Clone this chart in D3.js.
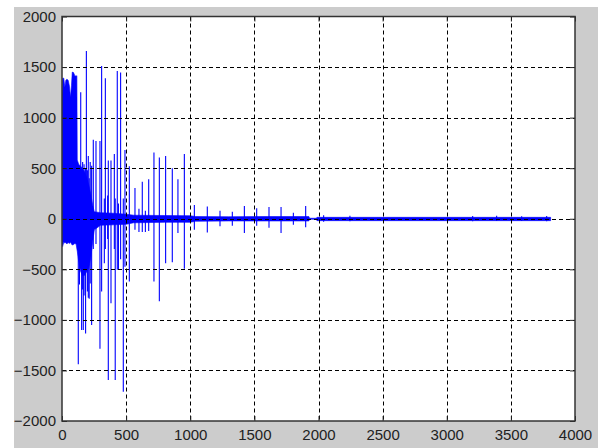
<!DOCTYPE html>
<html>
<head>
<meta charset="utf-8">
<script src="https://cdn.jsdelivr.net/npm/d3@7/dist/d3.min.js"></script>
<style>
  html, body { margin: 0; padding: 0; background: #ffffff; }
  svg { display: block; }
  .tick text { font-family: "Liberation Sans", Arial, sans-serif; font-size: 15px; fill: #222; }
</style>
</head>
<body>
<svg id="chart" width="598" height="448"></svg>
<script>
// Axis tick values
const xTicks = [0, 500, 1000, 1500, 2000, 2500, 3000, 3500, 4000];
const yTicks = [-2000, -1500, -1000, -500, 0, 500, 1000, 1500, 2000];

// Min/max envelope of the signal (sample index, upper, lower)
const bandT  = [0, 5, 14, 22, 30, 38, 48, 58, 66, 74, 80, 90, 100, 110, 116,
                119, 130, 145, 160, 175, 195, 210, 225, 240, 252, 300, 400, 500,
                560, 800, 1000, 1040, 1300, 1600, 1925, 1930, 1982, 1988, 3810];
const bandHi = [1230, 1390, 1390, 1300, 1370, 1380, 1370, 1310, 1200, 1320, 1450, 1445, 1415, 1410, 1415,
                580, 540, 520, 500, 470, 400, 330, 240, 130, 70, 60, 55, 45,
                35, 32, 30, 22, 20, 22, 22, 5, 5, 14, 14];
const bandLo = [-250, -275, -230, -240, -235, -250, -235, -245, -230, -250, -260, -255, -245, -250, -300,
                -320, -420, -520, -560, -560, -520, -480, -380, -220, -110, -65, -60, -55,
                -40, -35, -35, -25, -22, -22, -22, -5, -5, -19, -19];

// Individual excursions (sample index, peak, trough)
const spikeT  = [127, 136, 146, 153, 161, 166, 172, 184, 190, 198, 205, 212, 220, 231, 244, 265, 296, 309, 330,
                 338, 356, 361, 382, 408, 415, 431, 440, 457, 478, 491, 525, 569, 600,
                 626, 650, 676, 717, 759, 808, 860, 904, 954, 1032, 1133, 1232, 1328,
                 1422, 1518, 1614, 1708, 1804, 1900, 2040, 2245, 3202, 3389, 3584, 3779];
const spikeHi = [300, 520, 1250, 450, 560, 450, 540, 500, 1660, 480, 620, 400, 560, 525, 780, 770, 770, 1510, 200,
                 1390, 230, 575, 575, 640, 200, 1460, 150, 1445, 200, 680, 520, 305, 100,
                 365, 80, 390, 655, 605, 620, 500, 390, 640, 135, 120, 80, 70,
                 125, 105, 115, 115, 60, 125, 35, 30, 28, 30, 24, 28];
const spikeLo = [-1440, -650, -420, -1100, -700, -1100, -760, -1135, -500, -720, -780, -790, -640, -1050, -300, -250, -1285, -720, -440,
                 -300, -200, -1595, -835, -300, -1595, -505, -500, -400, -1710, -475, -620, -110, -130,
                 -130, -130, -120, -620, -815, -440, -430, -140, -495, -110, -135, -75, -70,
                 -140, -70, -90, -140, -60, -85, -30, -25, -25, -22, -22, -25];

const svg = d3.select("#chart");
const W = 598, H = 448;
const plot = { left: 62, right: 575, top: 16.5, bottom: 421 };

// Figure background
svg.append("rect").attr("x", 14).attr("y", 7).attr("width", W - 14).attr("height", H - 7)
   .attr("fill", "#cccccc");

// Axes area
svg.append("rect")
   .attr("x", plot.left).attr("y", plot.top)
   .attr("width", plot.right - plot.left).attr("height", plot.bottom - plot.top)
   .attr("fill", "#ffffff");

const x = d3.scaleLinear().domain([0, 4000]).range([plot.left, plot.right]);
const y = d3.scaleLinear().domain([-2000, 2000]).range([plot.bottom, plot.top]);

svg.append("clipPath").attr("id", "clip")
   .append("rect")
   .attr("x", plot.left).attr("y", plot.top)
   .attr("width", plot.right - plot.left).attr("height", plot.bottom - plot.top);

const data = svg.append("g").attr("clip-path", "url(#clip)");

// Envelope band
const band = bandT.map((t, i) => ({ t, hi: bandHi[i], lo: bandLo[i] }));
data.append("path")
    .datum(band)
    .attr("fill", "#0000ff")
    .attr("stroke", "#0000ff")
    .attr("stroke-width", 0.6)
    .attr("d", d3.area().x(d => x(d.t)).y0(d => y(d.lo)).y1(d => y(d.hi)));

// Spikes
const spikes = spikeT.map((t, i) => ({ t, hi: spikeHi[i], lo: spikeLo[i] }));
const seg = d3.line().x(d => d[0]).y(d => d[1]);
data.selectAll("path.spike")
    .data(spikes)
    .join("path")
    .attr("class", "spike")
    .attr("fill", "none")
    .attr("stroke", "#0000ff")
    .attr("stroke-width", 1.1)
    .attr("d", d => seg([[x(d.t), y(d.hi)], [x(d.t), y(d.lo)]]));

// Dashed grid
const grid = svg.append("g")
    .attr("stroke", "#000")
    .attr("stroke-width", 1)
    .attr("stroke-dasharray", "4,3");
grid.selectAll("line.gx")
    .data(xTicks.slice(1, -1))
    .join("line")
    .attr("x1", d => Math.round(x(d)) + 0.5).attr("x2", d => Math.round(x(d)) + 0.5)
    .attr("y1", plot.top).attr("y2", plot.bottom);
grid.selectAll("line.gy")
    .data(yTicks.slice(1, -1))
    .join("line")
    .attr("y1", d => Math.round(y(d)) + 0.5).attr("y2", d => Math.round(y(d)) + 0.5)
    .attr("x1", plot.left).attr("x2", plot.right);

// Axes with inward ticks on all four sides
function styleAxis(g) {
  g.select(".domain").remove();
  g.selectAll(".tick line").attr("stroke", "#222").attr("stroke-width", 1);
}
svg.append("g")
   .attr("transform", `translate(0,${plot.bottom})`)
   .call(d3.axisBottom(x).tickValues(xTicks).tickFormat(d3.format("d")).tickSizeInner(-5).tickSizeOuter(0).tickPadding(8))
   .call(styleAxis);
svg.append("g")
   .attr("transform", `translate(${plot.left},0)`)
   .call(d3.axisLeft(y).tickValues(yTicks).tickFormat(d3.format("d")).tickSizeInner(-5).tickSizeOuter(0).tickPadding(6))
   .call(styleAxis);
svg.append("g")
   .attr("transform", `translate(0,${plot.top})`)
   .call(d3.axisTop(x).tickValues(xTicks).tickFormat("").tickSizeInner(-5).tickSizeOuter(0))
   .call(styleAxis);
svg.append("g")
   .attr("transform", `translate(${plot.right},0)`)
   .call(d3.axisRight(y).tickValues(yTicks).tickFormat("").tickSizeInner(-5).tickSizeOuter(0))
   .call(styleAxis);

// Axes box
svg.append("rect")
   .attr("x", plot.left).attr("y", plot.top)
   .attr("width", plot.right - plot.left).attr("height", plot.bottom - plot.top)
   .attr("fill", "none").attr("stroke", "#333").attr("stroke-width", 1.5);
</script>
</body>
</html>
